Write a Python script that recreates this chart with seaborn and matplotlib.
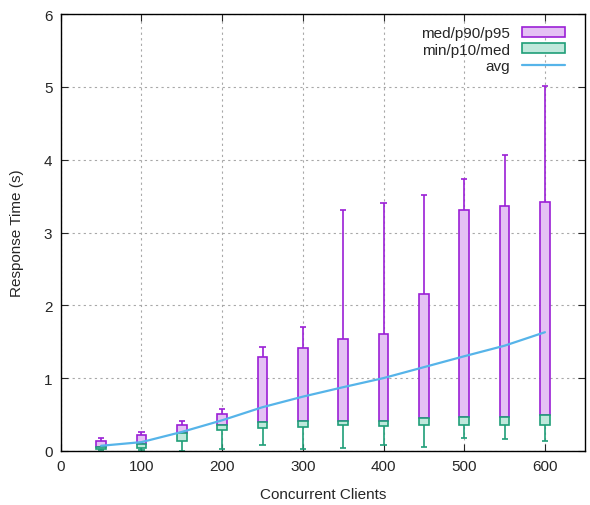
import numpy as np
import pandas as pd
import matplotlib
matplotlib.use("Agg")
import matplotlib.pyplot as plt
import seaborn as sns
from matplotlib.patches import Patch
from matplotlib.lines import Line2D

clients = [50, 100, 150, 200, 250, 300, 350, 400, 450, 500, 550, 600]
mins = [0.01, 0.01, 0.0, 0.02, 0.08, 0.02, 0.04, 0.08, 0.05, 0.18, 0.165, 0.13]
p10 = [0.02, 0.04, 0.13, 0.28, 0.31, 0.33, 0.35, 0.34, 0.35, 0.35, 0.35, 0.36]
med = [0.05, 0.09, 0.24, 0.36, 0.40, 0.41, 0.41, 0.41, 0.45, 0.46, 0.46, 0.49]
p90 = [0.14, 0.215, 0.36, 0.50, 1.295, 1.41, 1.54, 1.61, 2.155, 3.31, 3.37, 3.42]
p95 = [0.18, 0.26, 0.41, 0.58, 1.43, 1.70, 3.31, 3.40, 3.52, 3.73, 4.07, 5.02]
avg = [0.07, 0.12, 0.26, 0.42, 0.60, 0.745, 0.875, 1.0, 1.15, 1.30, 1.445, 1.63]

df = pd.DataFrame({"clients": clients, "min": mins, "p10": p10, "med": med,
                   "p90": p90, "p95": p95, "avg": avg})

sns.set_style("ticks")
plt.rcParams['font.family'] = ['Liberation Sans', 'DejaVu Sans']
plt.rcParams['font.size'] = 11

purple_edge = '#9b1fd6'
purple_fill = '#e4c1f4'
green_edge = '#1f9e78'
green_fill = '#c0e8dc'
blue = '#56b4e9'

fig = plt.figure(figsize=(5.9, 5.06), dpi=100)
ax = fig.add_axes([0.103, 0.107, 0.889, 0.863])

w = 12
cap = 3.8
x = df["clients"]

# upper part: med -> p90 box, p90 -> p95 whisker
ax.vlines(x, df["p90"], df["p95"], color=purple_edge, lw=1.2, zorder=2)
ax.hlines(df["p95"], x - cap, x + cap, color=purple_edge, lw=1.2, zorder=2)
ax.bar(x, df["p90"] - df["med"], bottom=df["med"], width=w,
       color=purple_fill, edgecolor=purple_edge, linewidth=1.2, zorder=3)

# lower part: min -> p10 whisker, p10 -> med box
ax.vlines(x, df["min"], df["p10"], color=green_edge, lw=1.2, zorder=2)
ax.hlines(df["min"], x - cap, x + cap, color=green_edge, lw=1.2, zorder=2)
ax.bar(x, df["med"] - df["p10"], bottom=df["p10"], width=w,
       color=green_fill, edgecolor=green_edge, linewidth=1.2, zorder=3)

sns.lineplot(data=df, x="clients", y="avg", color=blue, lw=1.6, ax=ax, zorder=4)

ax.set_xlim(0, 650)
ax.set_ylim(0, 6)
ax.set_xticks(range(0, 601, 100))
ax.set_yticks(range(0, 7))
ax.set_xlabel("Concurrent Clients", labelpad=10)
ax.set_ylabel("Response Time (s)", labelpad=14)
ax.grid(True, color='#a8a8a8', linestyle=(0, (2, 3)), linewidth=0.8)
ax.set_axisbelow(True)
ax.tick_params(direction='in', top=True, right=True, length=5, pad=6)
for s in ax.spines.values():
    s.set_color('black')
    s.set_linewidth(1.0)

handles = [Patch(facecolor=purple_fill, edgecolor=purple_edge, linewidth=1.2),
           Patch(facecolor=green_fill, edgecolor=green_edge, linewidth=1.2),
           Line2D([], [], color=blue, lw=1.6)]
ax.legend(handles, ["med/p90/p95", "min/p10/med", "avg"], loc='upper right',
          frameon=False, markerfirst=False, handlelength=2.8, handleheight=0.6,
          labelspacing=0.15, borderaxespad=0.4, handletextpad=0.8,
          bbox_to_anchor=(0.985, 1.0))

fig.savefig("out.png", dpi=100)
